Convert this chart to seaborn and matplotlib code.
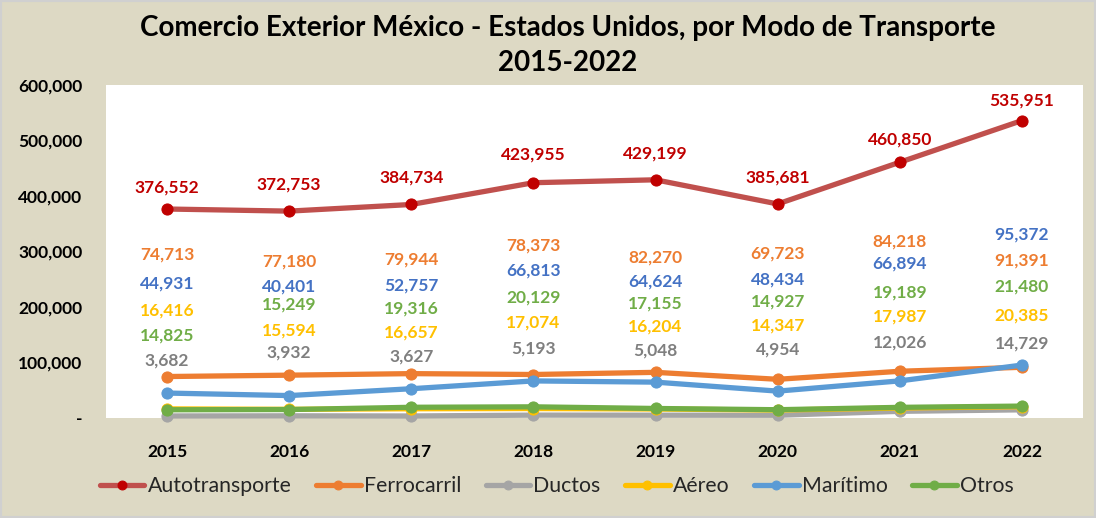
import matplotlib
matplotlib.use("Agg")
import matplotlib.pyplot as plt
from matplotlib import ticker
from matplotlib.patches import Rectangle
import pandas as pd
import seaborn as sns

years = ["2015", "2016", "2017", "2018", "2019", "2020", "2021", "2022"]
autotransporte = [376552, 372753, 384734, 423955, 429199, 385681, 460850, 535951]
ferrocarril = [74713, 77180, 79944, 78373, 82270, 69723, 84218, 91391]
ductos = [3682, 3932, 3627, 5193, 5048, 4954, 12026, 14729]
aereo = [16416, 15594, 16657, 17074, 16204, 14347, 17987, 20385]
maritimo = [44931, 40401, 52757, 66813, 64624, 48434, 66894, 95372]
otros = [14825, 15249, 19316, 20129, 17155, 14927, 19189, 21480]

# label placement (pixel row of each data label in the original layout)
lab_rows = {
    "Autotransporte": [188, 185, 178, 155, 154, 178, 140, 101],
    "Ferrocarril": [255, 262, 260, 246, 258, 254, 242, 261],
    "Ductos": [361, 353, 357, 349, 351, 350, 343, 344],
    "Aéreo": [311, 331, 333, 323, 327, 326, 317, 316],
    "Marítimo": [284, 287, 286, 271, 282, 280, 264, 235],
    "Otros": [336, 305, 309, 298, 304, 302, 293, 287],
}

series = {
    "Autotransporte": autotransporte,
    "Ferrocarril": ferrocarril,
    "Ductos": ductos,
    "Aéreo": aereo,
    "Marítimo": maritimo,
    "Otros": otros,
}
line_col = {"Autotransporte": "#C0504D", "Ferrocarril": "#ED7D31", "Ductos": "#A5A5A5",
            "Aéreo": "#FFC000", "Marítimo": "#5B9BD5", "Otros": "#70AD47"}
mark_col = {"Autotransporte": "#C00000", "Ferrocarril": "#ED7D31", "Ductos": "#A5A5A5",
            "Aéreo": "#FFC000", "Marítimo": "#5B9BD5", "Otros": "#70AD47"}
text_col = {"Autotransporte": "#C00000", "Ferrocarril": "#ED7D31", "Ductos": "#7F7F7F",
            "Aéreo": "#FFC000", "Marítimo": "#4472C4", "Otros": "#70AD47"}

sns.set_style("white")
plt.rcParams["font.family"] = ["Lato", "DejaVu Sans"]

W, H = 1096, 518
fig = plt.figure(figsize=(W / 100, H / 100), dpi=100)
fig.patch.set_facecolor("#DDD9C4")
fig.patches.append(Rectangle((0, 0), 1, 1, transform=fig.transFigure, fill=False,
                             edgecolor="#D0D0D0", lw=3))
ax_left, ax_right, ax_top, ax_bot = 106, 1083, 85, 418
ax = fig.add_axes([ax_left / W, 1 - ax_bot / H, (ax_right - ax_left) / W, (ax_bot - ax_top) / H])
ax.set_facecolor("white")

x = list(range(len(years)))
for name, vals in series.items():
    df = pd.DataFrame({"x": x, "y": vals})
    sns.lineplot(data=df, x="x", y="y", ax=ax, color=line_col[name], lw=3.8,
                 marker="o", markersize=8, markerfacecolor=mark_col[name],
                 markeredgecolor=mark_col[name], label=name, clip_on=False)
    for i, v in enumerate(vals):
        yf = (ax_bot - lab_rows[name][i]) / (ax_bot - ax_top)
        ax.text(i, yf, f"{v:,}", transform=ax.get_xaxis_transform(), ha="center",
                va="center", color=text_col[name], fontsize=12.5, fontweight="bold")

ax.set_xlim(-0.5, len(years) - 0.5)
ax.set_ylim(0, 600000)
ax.set_xticks(x)
ax.set_xticklabels(years)
ax.set_yticks(range(0, 600001, 100000))
ax.yaxis.set_major_formatter(ticker.FuncFormatter(lambda v, p: "-" if v == 0 else format(int(v), ",")))
ax.tick_params(axis="both", length=0, labelsize=12.5, labelcolor="black")
ax.tick_params(axis="x", pad=19)
ax.tick_params(axis="y", pad=17)
for lab in ax.get_xticklabels() + ax.get_yticklabels():
    lab.set_fontweight("bold")
for s in ax.spines.values():
    s.set_visible(False)
ax.set_xlabel("")
ax.set_ylabel("")

handles, labels = ax.get_legend_handles_labels()
ax.get_legend().remove()
fig.legend(handles, labels, loc="center", bbox_to_anchor=(0.508, 1 - 486 / H), ncol=6,
           frameon=False, fontsize=15.3, handlelength=2.1, handletextpad=0.15,
           columnspacing=1.15, markerscale=0.8)

fig.text(0.518, 1 - 28 / H, "Comercio Exterior México - Estados Unidos, por Modo de Transporte",
         ha="center", va="center", fontsize=20, fontweight="bold", color="black")
fig.text(0.518, 1 - 63 / H, "2015-2022", ha="center", va="center", fontsize=20,
         fontweight="bold", color="black")

fig.savefig("out.png", dpi=100, facecolor=fig.get_facecolor())
